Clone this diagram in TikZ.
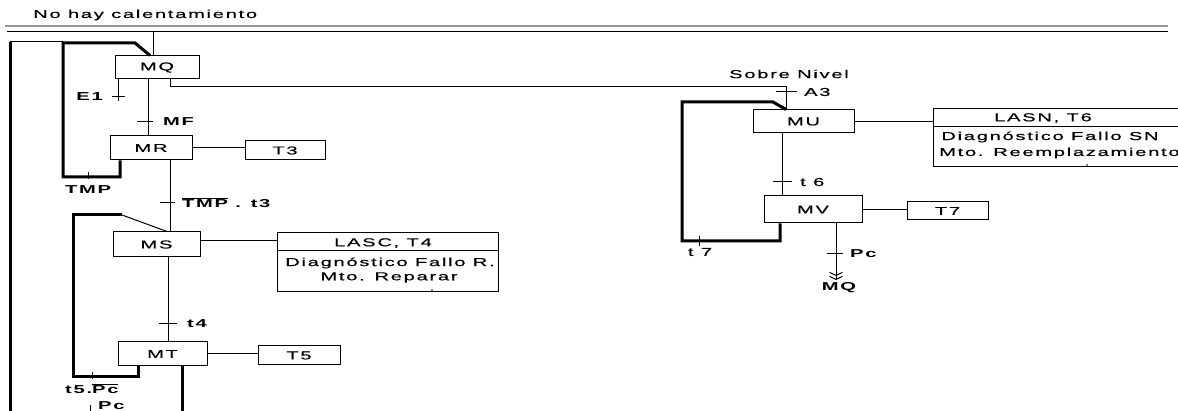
\documentclass[tikz,border=0pt]{standalone}
\usepackage{fontspec}
\setmainfont{Liberation Sans}[FakeStretch=1.75,LetterSpace=15,UprightFeatures={FakeBold=0.4}]
\usetikzlibrary{arrows.meta}
\tikzset{
  every node/.style={font=\fontsize{11.5}{13.5}\selectfont, inner sep=0pt},
  etapa/.style={draw, line width=1pt, inner sep=0pt},
  thin line/.style={line width=1pt},
  thick line/.style={line width=3pt},
  trans/.style={line width=1pt},
  blbl/.style={font=\fontsize{11.5}{13.5}\selectfont\bfseries},
}
\begin{document}
\begin{tikzpicture}[x=1pt,y=-1pt]
\useasboundingbox (0,0) rectangle (1178,411);
\clip (0,0) rectangle (1178,411);
\fill[white] (0,0) rectangle (1178,411);

% heading
\node[anchor=west] (title) at (33,15) {No hay calentamiento};
\draw[line width=2pt, black!40] (5,26) -- (1168,26);
\draw[thin line] (7,32) -- (1168,32);
\coordinate (top) at (153,32);

% boxes left chain
\node[etapa, minimum width=84pt, minimum height=23pt] (MQ) at (157,67.5) {MQ};
\node[etapa, minimum width=82pt, minimum height=24pt] (MR) at (151,148) {MR};
\node[etapa, minimum width=80pt, minimum height=19pt] (T3) at (285,150.5) {T3};
\node[etapa, minimum width=87pt, minimum height=25pt] (MS) at (156.5,244.5) {MS};
\node[etapa, minimum width=221pt, minimum height=59pt] (LASC) at (387.5,262.5) {};
\node[etapa, minimum width=89pt, minimum height=24pt] (MT) at (162.5,354) {MT};
\node[etapa, minimum width=82pt, minimum height=19pt] (T5) at (299,355.5) {T5};

% boxes right chain
\node[etapa, minimum width=101pt, minimum height=23pt] (MU) at (803.5,121.5) {MU};
\node[etapa, minimum width=257pt, minimum height=58pt] (LASN) at (1061.5,138) {};
\node[etapa, minimum width=98pt, minimum height=27pt] (MV) at (813,209.5) {MV};
\node[etapa, minimum width=81pt, minimum height=18pt] (T7) at (947.5,211) {T7};

% action box texts
\draw[thin line] (LASC.west |- 0,251) -- (LASC.east |- 0,251);
\node (lasc1) at (383,243) {LASC, T4};
\node (lasc2) at (390,263) {Diagnóstico Fallo R.};
\node (lasc3) at (389,277.5) {Mto. Reparar};
\fill (432,290) circle (0.8pt);
\draw[thin line] (LASN.west |- 0,127) -- (LASN.east |- 0,127);
\node (lasn1) at (1043,118) {LASN, T6};
\node (lasn2) at (1050,137) {Diagnóstico Fallo SN};
\node[anchor=west] (lasn3) at (939,153) {Mto. Reemplazamiento};
\fill (1087,165) circle (0.8pt);

% left main connectors
\draw[thin line] (top) -- (MQ.north -| top);
\draw[thin line] (MQ.south -| 118,0) -- (118,101);
\draw[trans] (112,97) -- (125,97);
\node[blbl, anchor=east] (E1) at (103,97) {E1};

\draw[thin line] (MQ.south -| 148,0) -- (MR.north -| 148,0);
\draw[trans] (137,122) -- (153,122);
\node[blbl, anchor=west] (MF) at (163,122) {MF};

\draw[thin line] (MR.east) -- (MR.east -| T3.west);

\draw[thin line] (MR.south -| 170,0) -- (MS.north -| 170,0);
\draw[trans] (160,203) -- (175,203);
\node[blbl, anchor=west] (c3) at (182,203) {$\overline{\hbox{TMP}}$ . t3};

\draw[thin line] (MS.east |- 0,241) -- (LASC.west |- 0,241);

\draw[thin line] (MS.south -| 168,0) -- (MT.north -| 168,0);
\draw[trans] (159,324) -- (177,324);
\node[blbl, anchor=west] (c4) at (187,324) {t4};

\draw[thin line] (MT.east |- 0,354) -- (T5.west |- 0,354);
\draw[thick line] (MT.south -| 182,0) -- (182,420);

% loop MR -> MQ (TMP)
\draw[thick line, line join=miter] (MR.south -| 120,0) -- (120,177) -- (63,177) -- (63,43) -- (135,43) -- (MQ.north -| 150,0);
\draw[trans] (88,172) -- (88,179);
\node[blbl, anchor=west] (cTMP) at (65,190) {TMP};

% loop MT -> MS
\draw[thick line, line join=miter] (MT.south -| 138,0) -- (138,377) -- (73,377) -- (73,215) -- (122,215);
\draw[thin line] (122,215) -- (MS.north -| 167,0);
\draw[trans] (92,372) -- (92,379);
\node[blbl, anchor=west] (c5) at (65,389) {t5.$\overline{\hbox{Pc}}$};

% outer loop
\draw[thick line] (10,420) -- (10,42);
\draw[thin line] (10,42) -- (63,42);
\draw[trans] (90,405) -- (90,413);
\node[blbl, anchor=west] (cPc2) at (98,406) {Pc};

% connection to right chain
\draw[thin line] (MQ.south -| 170,0) -- (170,87) -- (786,87) -- (MU.north -| 786,0);
\draw[trans] (776,92) -- (797,92);
\node[anchor=west] (cA3) at (804,92) {A3};
\node (sobre) at (789,74) {Sobre Nivel};

\draw[thin line] (MU.east) -- (MU.east -| LASN.west);

\draw[thin line] (MU.south -| 782,0) -- (MV.north -| 782,0);
\draw[trans] (773,182) -- (792,182);
\node[anchor=west] (c6) at (800,182) {t 6};

\draw[thin line] (MV.east |- 0,210) -- (T7.west |- 0,210);

% loop MV -> MU
\draw[thick line, line join=miter] (MV.south -| 780,0) -- (780,241) -- (682,241) -- (682,102) -- (773,102) -- (MU.north -| 786,0);
\draw[trans] (699,236) -- (699,246);
\node (c7) at (700,252) {t 7};

% exit to MQ
\node[blbl] (MQref) at (839,288) {MQ};
\coordinate (arrEnd) at (836,280);
\draw[thin line, -{Straight Barb[length=3pt,width=13pt,line width=1pt] Straight Barb[length=3pt,width=13pt,line width=1pt]}] (MV.south -| 836,0) -- (arrEnd);
\draw[trans] (827,254) -- (843,254);
\node[blbl, anchor=west] (cPc) at (850,254) {Pc};
\end{tikzpicture}
\end{document}
